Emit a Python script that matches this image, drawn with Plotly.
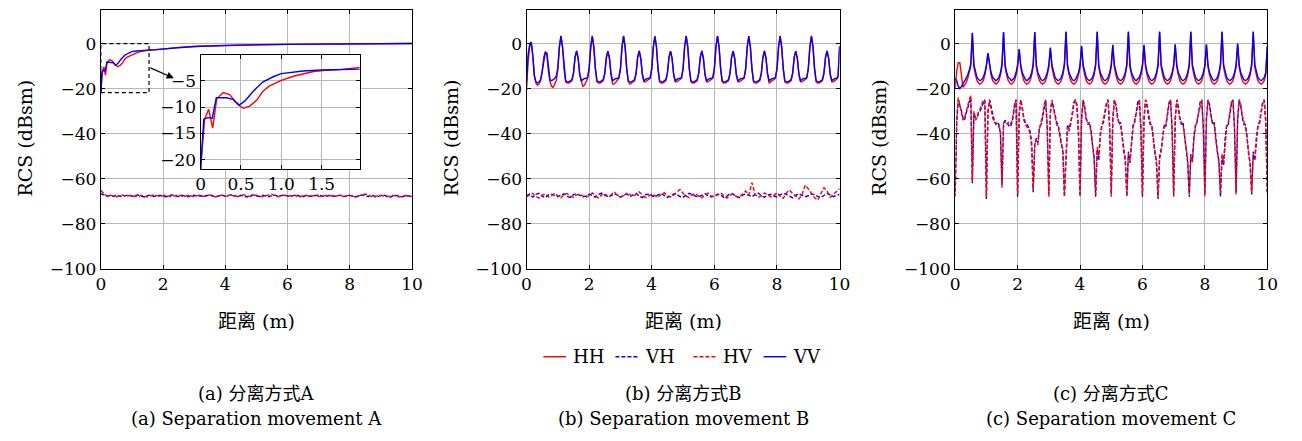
import numpy as np
import plotly.graph_objects as go

# ---------------- data ----------------
# Panel A co-pol (non uniform samples)
xA_hh = [0, 0.05, 0.1, 0.15, 0.2, 0.28, 0.36, 0.46, 0.53, 0.61, 0.7, 0.77, 0.85, 1.0, 1.15, 1.27, 1.4, 1.52,
         1.75, 2.0, 2.5, 3, 4, 5, 6, 7, 8, 9, 10]
hhA = [-21.8, -12.3, -10.4, -14.0, -8.4, -7.2, -7.6, -9.5, -10.2, -9.8, -8.6, -7.0, -6.0, -4.9, -4.1, -3.6, -3.2,
       -3.0, -2.8, -2.4, -1.7, -1.3, -0.8, -0.5, -0.35, -0.25, -0.15, -0.1, 0.0]
xA_vv = [0, 0.04, 0.09, 0.145, 0.195, 0.32, 0.4, 0.48, 0.55, 0.65, 0.77, 0.9, 1.0, 1.15, 1.27, 1.5, 1.75, 2.0,
         2.5, 3, 4, 5, 6, 7, 8, 9, 10]
vvA = [-21.8, -12.3, -12.0, -12.1, -8.2, -8.2, -8.5, -9.6, -8.8, -7.0, -5.2, -4.2, -3.6, -3.3, -3.1, -2.9, -2.7,
       -2.4, -1.7, -1.3, -0.8, -0.5, -0.35, -0.25, -0.15, -0.1, 0.0]

# cross-pol, 0.1 m spacing
vhA = [-66.6, -67.2, -67.8, -67.5, -67.9, -67.4, -67.7, -68.0, -67.5, -67.3,
       -67.8, -67.6, -67.2, -67.7, -68.1, -67.5, -67.3, -67.9, -67.6, -67.4,
       -67.9, -68.0, -67.5, -67.2, -67.7, -67.9, -67.4, -67.6, -68.0, -67.5,
       -67.3, -67.8, -67.6, -67.9, -67.4, -67.2, -67.7, -68.0, -67.6, -67.3,
       -67.8, -67.5, -67.1, -67.6, -67.9, -67.4, -67.7, -68.1, -67.5, -67.2,
       -67.7, -67.9, -67.4, -67.6, -68.0, -67.5, -67.3, -67.8, -67.6, -67.2,
       -67.7, -67.9, -67.5, -67.3, -67.8, -68.0, -67.4, -67.6, -67.9, -67.5,
       -67.2, -67.7, -68.0, -67.6, -67.4, -67.8, -67.5, -67.3, -67.9, -67.6,
       -67.4, -67.8, -68.1, -67.5, -67.2, -67.7, -67.9, -67.4, -67.6, -68.0,
       -67.5, -67.3, -67.8, -68.2, -67.6, -67.4, -67.9, -68.0, -67.5, -67.7,
       -67.9]
hvA = [-65.2, -66.8, -67.9, -67.3, -67.7, -68.1, -67.5, -67.2, -67.8, -67.6,
       -67.3, -67.9, -68.0, -67.4, -67.6, -68.1, -67.7, -67.2, -67.5, -67.9,
       -67.6, -67.3, -67.8, -68.0, -67.5, -67.2, -67.7, -67.9, -67.4, -67.8,
       -68.0, -67.5, -67.3, -67.9, -67.6, -67.2, -67.8, -68.1, -67.5, -67.4,
       -67.9, -67.6, -67.3, -67.8, -68.0, -67.4, -67.1, -67.7, -67.9, -67.5,
       -67.3, -67.8, -68.0, -67.6, -67.2, -66.9, -67.7, -68.0, -67.5, -67.3,
       -67.9, -67.6, -67.2, -67.7, -68.1, -67.5, -67.4, -67.9, -67.6, -67.3,
       -67.8, -68.0, -67.5, -67.2, -67.7, -68.0, -67.6, -67.4, -67.9, -67.5,
       -67.3, -67.8, -68.1, -67.6, -67.2, -66.8, -67.4, -67.9, -68.2, -67.5,
       -67.3, -67.8, -68.0, -67.6, -67.4, -67.9, -68.1, -67.7, -67.5, -68.0,
       -67.8]

# Panel B co-pol, 0.05 m spacing
vvB = [-17, -5, -0.5, 0.7, -5, -14, -17, -17.5, -17, -16, -12.5, -7, -3.8, -4.2, -11, -16, -16.5, -16, -15.5, -14.5,
       -11, -1.5, 3.3, -1.5, -11, -16.5, -17, -17, -16.5, -16, -13, -6, -3.3, -6.5, -13.5, -16.5, -16, -15.5, -15.5, -15,
       -11, -1.6, 3.2, -1.5, -11, -16.5, -17, -17, -16.5, -16, -13, -6.2, -3.4, -6.5, -13.5, -16.5, -16, -15.5, -15.5, -15,
       -11, -1.5, 3.3, -1.6, -11, -16.5, -17, -17, -16.5, -16, -13, -6, -3.3, -6.6, -13.5, -16.5, -16, -15.5, -15.5, -15,
       -11, -1.5, 3.2, -1.5, -11, -16.5, -17, -17, -16.5, -16, -13, -6.1, -3.4, -6.5, -13.5, -16.5, -16, -15.5, -15.5, -15,
       -11, -1.4, 3.3, -1.5, -11, -16.5, -17, -17, -16.5, -16, -13, -6, -3.3, -6.5, -13.5, -16.5, -16, -15.5, -15.5, -15,
       -11, -1.5, 3.3, -1.5, -11, -16.5, -17, -17, -16.5, -16, -13, -6, -3.4, -6.5, -13.5, -16.5, -16, -15.5, -15.5, -15,
       -11, -1.5, 3.2, -1.6, -11, -16.5, -17, -17, -16.5, -16, -13, -6.1, -3.3, -6.5, -13.5, -16.5, -16, -15.5, -15.5, -15,
       -11, -1.5, 3.3, -1.5, -11, -16.5, -17, -17, -16.5, -16, -13, -6, -3.4, -6.6, -13.5, -16.5, -16, -15.5, -15.5, -15,
       -11, -1.6, 3.2, -1.5, -11, -16.5, -17, -17, -16.5, -16, -13, -6, -3.3, -6.5, -13.5, -16.5, -16, -15.5, -15.5, -14.5,
       -1.0]
hhB = [-21, -8, -1.5, 0.5, -5.5, -14.5, -17.5, -18.5, -18, -16.5, -12.5, -6, -4, -5, -12.5, -17, -19, -19.5, -18, -16.5,
       -11.5, -1.5, 3.4, -1.5, -11.5, -17, -17.5, -17.5, -17, -16.5, -13.5, -6.2, -3.3, -6.8, -14, -17, -19, -18.5, -16.5, -15.5,
       -11.5, -1.6, 3.4, -1.5, -11.5, -17, -17.5, -17.5, -17, -16.5, -13.5, -6.3, -3.4, -6.8, -14, -18, -18, -17, -16, -15.5,
       -11.5, -1.5, 3.4, -1.6, -11.5, -17, -18, -17.5, -17, -16.5, -13.5, -6.2, -3.3, -6.8, -14, -17, -17, -16.5, -16, -15.5,
       -11.5, -1.5, 3.3, -1.5, -11.5, -17, -17.5, -17.5, -17, -16.5, -13.5, -6.2, -3.4, -6.8, -14, -17, -17, -16.5, -16, -15.5,
       -11.5, -1.4, 3.4, -1.5, -11.5, -17, -17.5, -17.5, -17, -16.5, -13.5, -6.2, -3.3, -6.8, -14, -17, -17, -16.5, -16, -15.5,
       -11.5, -1.5, 3.4, -1.5, -11.5, -17, -17.5, -17.5, -17, -16.5, -13.5, -6.2, -3.4, -6.8, -14, -17, -17, -16.5, -16, -15.5,
       -11.5, -1.5, 3.3, -1.6, -11.5, -17, -17.5, -17.5, -17, -16.5, -13.5, -6.3, -3.3, -6.8, -14, -17.5, -17, -16.5, -16, -15.5,
       -11.5, -1.5, 3.4, -1.5, -11.5, -17, -17.5, -17.5, -17, -16.5, -13.5, -6.2, -3.4, -6.8, -14, -17, -17, -16.5, -16, -15.5,
       -11.5, -1.6, 3.4, -1.5, -11.5, -17, -17.5, -17.5, -17, -16.5, -13.5, -6.2, -3.3, -6.8, -14, -17, -17, -16.5, -16, -15,
       -1.5]
# Panel B cross-pol, 0.1 m spacing
vhB = [-67.5, -66.8, -68.2, -67.0, -66.5, -67.8, -68.4, -67.2, -66.9, -67.6,
       -68.0, -67.3, -66.7, -67.9, -68.3, -67.1, -66.6, -67.4, -68.1, -67.7,
       -66.9, -67.5, -68.2, -67.0, -66.4, -67.3, -68.0, -67.6, -66.8, -67.2,
       -68.1, -67.5, -66.7, -67.9, -67.3, -66.5, -67.8, -68.4, -67.1, -66.9,
       -67.6, -68.0, -67.2, -66.6, -67.4, -68.3, -67.7, -66.8, -67.0, -67.9,
       -68.2, -67.4, -66.5, -67.1, -67.8, -68.0, -67.3, -66.7, -67.5, -68.1,
       -67.6, -66.9, -67.2, -68.3, -67.7, -66.6, -67.0, -67.9, -68.4, -67.3,
       -66.8, -67.5, -68.0, -67.1, -66.4, -67.6, -68.2, -67.4, -66.9, -67.7,
       -68.1, -67.2, -66.5, -67.0, -67.8, -68.5, -67.3, -66.7, -67.4, -68.0,
       -67.6, -66.8, -67.1, -67.9, -68.3, -67.5, -66.6, -67.2, -68.0, -67.4,
       -67.0]
hvB = [-68.0, -67.1, -66.5, -67.9, -68.6, -67.3, -66.8, -68.1, -67.5, -66.4,
       -67.7, -68.5, -67.0, -66.6, -67.8, -68.3, -67.2, -66.9, -67.6, -68.4,
       -67.4, -66.3, -67.5, -68.6, -67.1, -66.7, -67.9, -67.2, -65.8, -67.4,
       -68.2, -67.6, -66.5, -67.0, -68.0, -66.9, -65.9, -67.3, -68.4, -67.7,
       -66.8, -67.5, -68.3, -67.0, -66.2, -67.6, -68.1, -67.3, -66.0, -64.8,
       -66.5, -67.8, -68.4, -67.1, -66.6, -67.9, -68.5, -67.2, -66.4, -67.7,
       -68.0, -67.0, -66.3, -67.5, -68.6, -67.4, -66.7, -67.9, -68.2, -66.8,
       -65.5, -67.3, -61.8, -66.9, -68.3, -67.6, -66.4, -67.0, -68.1, -67.5,
       -66.2, -67.8, -68.7, -66.3, -65.0, -66.6, -68.0, -69.0, -67.2, -62.9,
       -64.5, -66.8, -68.5, -69.5, -66.7, -64.0, -65.5, -68.2, -67.0, -65.8,
       -64.5]

# Panel C co-pol, 0.05 m spacing
vvC = [-15.5, -16.5, -19, -20, -19, -18, -16.5, -15.5, -14, -12, -9, 4.8, -9.5, -13, -15, -16, -16.5, -16, -15, -13,
       -9.5, -4.2, -9.5, -13, -15, -16, -16.5, -16, -15, -13, -9, 5.1, -9.5, -13, -15, -15.5, -16.5, -16, -15, -13,
       -9.5, -2.5, -9.5, -13, -15, -16, -16.5, -15.5, -15, -13, -9, 5.1, -9.5, -13, -15, -16, -16.5, -16, -15, -13,
       -9.5, -1.8, -9.5, -13, -15, -16, -16.5, -16, -15, -13, -9, 5.3, -9.5, -13, -15, -16, -16.5, -16, -14.5, -13,
       -9.5, -1.0, -9.5, -13, -15, -16, -16.5, -16, -15, -13, -9, 5.3, -9.5, -13, -15, -16, -16.5, -16, -15, -13,
       -9.5, -0.6, -9.5, -13, -15, -16, -16.5, -16, -15, -13, -9, 5.3, -9.5, -13, -15, -16, -16.5, -15.5, -15, -13,
       -9.5, -0.6, -9.5, -13, -15, -16, -16.5, -16, -15, -13, -9, 5.3, -9.5, -13, -15, -16, -16.5, -16, -15, -13,
       -9.5, -0.3, -9.5, -13, -15, -16, -16.5, -16, -15, -13, -9, 5.3, -9.5, -13, -15, -16, -16.5, -16, -15, -13,
       -9.5, -0.3, -9.5, -13, -15, -16, -16.5, -16, -15, -13, -9, 5.3, -9.5, -13, -15, -16, -16.5, -16, -15, -13,
       -9.5, 0.0, -9.5, -13, -15, -16, -16.5, -16, -15, -13, -9, 5.3, -9.5, -13, -15, -16, -16.5, -16, -15, -13,
       -1.0]
hhC = [-20, -12, -8.5, -8.5, -14, -19.5, -18.5, -17.5, -15.5, -13, -10, 4.5, -10.5, -14, -16.5, -17.5, -18, -17.5, -16.5, -14,
       -10.5, -4.5, -10.5, -14, -16.5, -17.5, -18, -17.5, -16.5, -14, -10, 4.9, -10.5, -14, -16.5, -17.5, -18, -17.5, -16.5, -14,
       -10.5, -2.8, -10.5, -14, -16.5, -17.5, -18, -17.5, -16.5, -14, -10, 4.9, -10.5, -14, -16.5, -17.5, -18, -17.5, -16.5, -14,
       -10.5, -2.1, -10.5, -14, -16.5, -17.5, -18, -17.5, -16.5, -14, -10, 5.1, -10.5, -14, -16.5, -17.5, -18, -17.5, -16.5, -14,
       -10.5, -1.3, -10.5, -14, -16.5, -17.5, -18, -17.5, -16.5, -14, -10, 5.1, -10.5, -14, -16.5, -17.5, -18, -17.5, -16.5, -14,
       -10.5, -0.9, -10.5, -14, -16.5, -17.5, -18, -17.5, -16.5, -14, -10, 5.1, -10.5, -14, -16.5, -17.5, -18, -17.5, -16.5, -14,
       -10.5, -0.9, -10.5, -14, -16.5, -17.5, -18, -17.5, -16.5, -14, -10, 5.1, -10.5, -14, -16.5, -17.5, -18, -17.5, -16.5, -14,
       -10.5, -0.6, -10.5, -14, -16.5, -17.5, -18, -17.5, -16.5, -14, -10, 5.1, -10.5, -14, -16.5, -17.5, -18, -17.5, -16.5, -14,
       -10.5, -0.6, -10.5, -14, -16.5, -17.5, -18, -17.5, -16.5, -14, -10, 5.1, -10.5, -14, -16.5, -17.5, -18, -17.5, -16.5, -14,
       -10.5, -0.3, -10.5, -14, -16.5, -17.5, -18, -17.5, -16.5, -14, -10, 5.1, -10.5, -14, -16.5, -17.5, -18, -17.5, -16.5, -14,
       -1.5]
# Panel C cross-pol, 0.05 m spacing
vhC = [-66, -35, -25, -27, -30, -33, -34, -31, -29, -26, -24, -62, -31, -33, -33, -31, -30, -28, -26, -25,
       -69, -30, -25, -28, -32, -34, -36, -35, -36, -40, -63, -36, -34, -35, -36, -37, -36, -33, -28, -25,
       -68, -32, -25, -29, -33, -35, -36, -37, -39, -44, -66, -45, -42, -44, -37, -36, -33, -28, -25, -38,
       -67, -30, -26, -28, -32, -35, -36, -40, -44, -48, -68, -48, -36, -38, -35, -32, -27, -25, -27, -40,
       -68, -33, -25, -28, -33, -36, -35, -38, -45, -50, -68, -47, -52, -40, -36, -35, -31, -27, -25, -38,
       -67, -34, -25, -27, -32, -36, -35, -41, -47, -52, -68, -48, -53, -43, -36, -35, -30, -26, -25, -37,
       -68, -33, -25, -28, -33, -36, -36, -42, -48, -54, -69, -50, -47, -40, -36, -37, -31, -27, -25, -38,
       -67, -34, -25, -28, -33, -36, -35, -40, -47, -53, -68, -49, -52, -41, -36, -35, -30, -26, -25, -37,
       -67, -33, -25, -27, -32, -36, -35, -42, -48, -52, -68, -50, -54, -42, -36, -36, -31, -27, -25, -38,
       -66, -34, -25, -28, -33, -36, -36, -41, -49, -53, -67, -48, -52, -42, -36, -35, -30, -26, -25, -35,
       -67]
hvC = [-68, -33, -24, -27, -31, -34, -33, -30, -28, -25, -23, -61, -30, -34, -33, -30, -29, -27, -25, -26,
       -68, -31, -25, -29, -33, -35, -35, -36, -37, -39, -64, -35, -35, -36, -35, -36, -35, -32, -27, -25,
       -67, -31, -25, -28, -34, -36, -37, -38, -40, -46, -65, -44, -43, -45, -38, -35, -32, -27, -25, -37,
       -68, -31, -25, -29, -33, -36, -37, -41, -45, -47, -67, -50, -37, -39, -36, -31, -26, -25, -28, -39,
       -67, -34, -25, -29, -34, -35, -36, -39, -46, -51, -67, -46, -50, -41, -37, -34, -30, -26, -25, -37,
       -68, -33, -25, -28, -33, -35, -36, -42, -48, -51, -67, -49, -52, -44, -37, -34, -31, -27, -25, -38,
       -67, -34, -25, -27, -32, -35, -37, -43, -49, -52, -68, -51, -48, -41, -37, -36, -30, -26, -25, -37,
       -68, -33, -25, -29, -34, -35, -36, -41, -48, -52, -67, -50, -53, -42, -37, -34, -31, -27, -25, -38,
       -68, -34, -25, -28, -33, -35, -36, -43, -49, -53, -67, -49, -53, -43, -37, -35, -30, -26, -25, -37,
       -67, -33, -25, -27, -32, -35, -37, -42, -48, -54, -66, -49, -51, -41, -37, -36, -31, -27, -25, -34,
       -66]

x_fine = np.round(np.arange(201) * 0.05, 2)
x_coarse = np.round(np.arange(101) * 0.1, 2)

captions_cn = ["(a) 分离方式A", "(b) 分离方式B", "(c) 分离方式C"]
captions_en = ["(a) Separation movement A", "(b) Separation movement B", "(c) Separation movement C"]
x_title = "距离 (m)"
y_title = "RCS (dBsm)"
legend_names = ["HH", "VH", "HV", "VV"]

# ---------------- style ----------------
RED = "#ff0000"
BLUE = "#0000ff"
FONT = "DejaVu Serif, Noto Sans CJK SC"
W, H = 1302, 441
LW = 1.4
DASH = "4px,2px"
STYLES = {"HH": (RED, "solid"), "VH": (BLUE, DASH), "HV": (RED, DASH), "VV": (BLUE, "solid")}

fig = go.Figure()


def add_panel(xa, ya, xco_h, hh, xco_v, vv, xcr, vh, hv):
    for name, xs, ys in (("HH", xco_h, hh), ("VH", xcr, vh), ("HV", xcr, hv), ("VV", xco_v, vv)):
        c, d = STYLES[name]
        fig.add_trace(go.Scatter(x=xs, y=ys, mode="lines", name=name, line=dict(color=c, width=LW, dash=d),
                                 xaxis=xa, yaxis=ya, showlegend=False))


add_panel("x", "y", xA_hh, hhA, xA_vv, vvA, x_coarse, vhA, hvA)
add_panel("x2", "y2", x_fine, hhB, x_fine, vvB, x_coarse, vhB, hvB)
add_panel("x3", "y3", x_fine, hhC, x_fine, vvC, x_fine, vhC, hvC)
# inset
fig.add_trace(go.Scatter(x=xA_hh, y=hhA, mode="lines", line=dict(color=RED, width=LW), xaxis="x4", yaxis="y4",
                         showlegend=False))
fig.add_trace(go.Scatter(x=xA_vv, y=vvA, mode="lines", line=dict(color=BLUE, width=LW), xaxis="x4", yaxis="y4",
                         showlegend=False))


def px_x(p):
    return p / W


def px_y(p):
    return 1 - p / H


axis_common = dict(showline=True, linecolor="black", linewidth=1, mirror="allticks", ticks="inside", ticklen=4,
                   tickcolor="black", showgrid=True, gridcolor="#b8b8b8", gridwidth=1, zeroline=False,
                   tickfont=dict(family=FONT, size=17, color="black"))

ydom = [px_y(275), px_y(10)]
panels_px = [(97, 412), (528, 845), (962, 1278)]
for i, (l, r) in enumerate(panels_px):
    s = "" if i == 0 else str(i + 1)
    fig.update_layout(**{
        "xaxis" + s: dict(domain=[px_x(l), px_x(r)], range=[0, 10], tickvals=[0, 2, 4, 6, 8, 10],
                          anchor="y" + s, **axis_common),
        "yaxis" + s: dict(domain=ydom, range=[-100, 15], tickvals=[0, -20, -40, -60, -80, -100],
                          anchor="x" + s, **axis_common),
    })
fig.update_layout(
    xaxis4=dict(domain=[px_x(198), px_x(359)], range=[0, 1.97], tickvals=[0, 0.5, 1.0, 1.5],
                ticktext=["0", "0.5", "1.0", "1.5"], anchor="y4", **axis_common),
    yaxis4=dict(domain=[px_y(173), px_y(56)], range=[-21.8, 0], tickvals=[-5, -10, -15, -20],
                anchor="x4", **axis_common),
)

TXT = dict(family=FONT, size=18, color="black")
annotations = []
for i, (l, r) in enumerate(panels_px):
    cx = (l + r) / 2
    annotations.append(dict(x=px_x(cx), y=px_y(328), xref="paper", yref="paper", text=x_title, showarrow=False,
                            font=dict(family=FONT, size=19, color="black"), xanchor="center", yanchor="middle"))
    annotations.append(dict(x=px_x(l - 77), y=px_y(141), xref="paper", yref="paper", text=y_title, showarrow=False,
                            textangle=-90, font=dict(family=FONT, size=19, color="black"),
                            xanchor="center", yanchor="middle"))
    annotations.append(dict(x=px_x(cx), y=px_y(403), xref="paper", yref="paper", text=captions_cn[i],
                            showarrow=False, font=TXT, xanchor="center", yanchor="middle"))
    annotations.append(dict(x=px_x(cx), y=px_y(428), xref="paper", yref="paper", text=captions_en[i],
                            showarrow=False, font=TXT, xanchor="center", yanchor="middle"))

# arrow from zoom box to inset
annotations.append(dict(x=px_x(171), y=px_y(80), xref="paper", yref="paper", ax=-25, ay=-11,
                        axref="pixel", ayref="pixel", text="", showarrow=True, arrowhead=2, arrowsize=1.2,
                        arrowwidth=1.2, arrowcolor="black"))

shapes = [dict(type="rect", xref="x", yref="y", x0=0, x1=1.55, y0=-21.8, y1=0,
               line=dict(color="black", width=1.2, dash="4px,3px"), fillcolor="rgba(0,0,0,0)")]

# legend (drawn below the middle panel)
leg_line_x = [545, 618, 697, 768]
for name, lx in zip(legend_names, leg_line_x):
    c, d = STYLES[name]
    shapes.append(dict(type="line", xref="paper", yref="paper", x0=px_x(lx), x1=px_x(lx + 23),
                       y0=px_y(365), y1=px_y(365), line=dict(color=c, width=LW, dash=d)))
    annotations.append(dict(x=px_x(lx + 28), y=px_y(365), xref="paper", yref="paper", text=name,
                            showarrow=False, font=TXT, xanchor="left", yanchor="middle"))

fig.update_layout(
    width=W, height=H, margin=dict(l=0, r=0, t=0, b=0),
    paper_bgcolor="white", plot_bgcolor="white",
    font=dict(family=FONT, size=17, color="black"),
    annotations=annotations, shapes=shapes, showlegend=False,
)

fig.write_html("out.html", post_script="document.body.style.margin='0px';document.body.style.overflow='hidden';")
